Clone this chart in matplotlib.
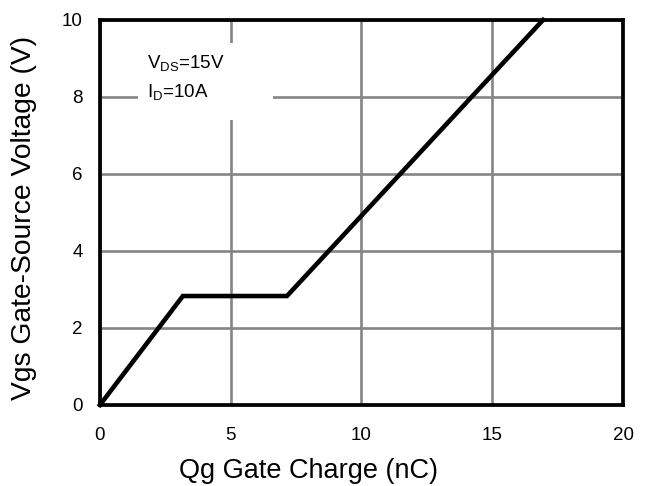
import matplotlib
matplotlib.use("Agg")
import matplotlib.pyplot as plt
from matplotlib.patches import Rectangle

plt.rcParams['font.family'] = ['Liberation Sans', 'DejaVu Sans']
plt.rcParams['mathtext.fontset'] = 'custom'
plt.rcParams['mathtext.rm'] = 'Liberation Sans'
plt.rcParams['mathtext.it'] = 'Liberation Sans'

# Gate charge curve: Vgs vs Qg
qg_nc = [0.0, 3.17, 7.15, 16.94]
vgs_v = [0.0, 2.83, 2.83, 10.0]

x_ticks = [0, 5, 10, 15, 20]
y_ticks = [0, 2, 4, 6, 8, 10]
x_label = "Qg Gate Charge (nC)"
y_label = "Vgs Gate-Source Voltage (V)"
cond_lines = [r"V$_{\mathrm{DS}}$=15V", r"I$_{\mathrm{D}}$=10A"]

fig = plt.figure(figsize=(6.49, 4.86), dpi=100)
ax = fig.add_axes([0.154, 0.1667, 0.806, 0.7922])

ax.set_xlim(0, 20)
ax.set_ylim(0, 10)
ax.set_xticks(x_ticks)
ax.set_yticks(y_ticks)
ax.tick_params(axis='x', length=0, pad=15.5, labelsize=13.5)
ax.tick_params(axis='y', length=0, pad=12.5, labelsize=13.5)

ax.grid(True, color='#858585', linewidth=1.9)
ax.set_axisbelow(True)
for sp in ax.spines.values():
    sp.set_linewidth(2.7)
    sp.set_color('black')
    sp.set_zorder(5)

ax.plot(qg_nc, vgs_v, color='black', linewidth=3.3, solid_joinstyle='miter',
        clip_on=False, zorder=4)

# white panel behind the test conditions
ax.add_patch(Rectangle((0.073, 0.740), 0.258, 0.200, transform=ax.transAxes,
                       facecolor='white', edgecolor='none', zorder=2))
ax.text(0.090, 0.875, cond_lines[0], transform=ax.transAxes, fontsize=13.5,
        ha='left', va='baseline', zorder=3)
ax.text(0.090, 0.799, cond_lines[1], transform=ax.transAxes, fontsize=13.5,
        ha='left', va='baseline', zorder=3)

ax.set_xlabel(x_label, fontsize=19.5)
ax.xaxis.label.set_va('baseline')
ax.xaxis.set_label_coords(0.399, -0.19)

ax.set_ylabel(y_label, fontsize=20.3)
ax.yaxis.label.set_va('center')
ax.yaxis.set_label_coords(-0.146, 0.487)

fig.savefig("out.png", dpi=100, facecolor='white')
